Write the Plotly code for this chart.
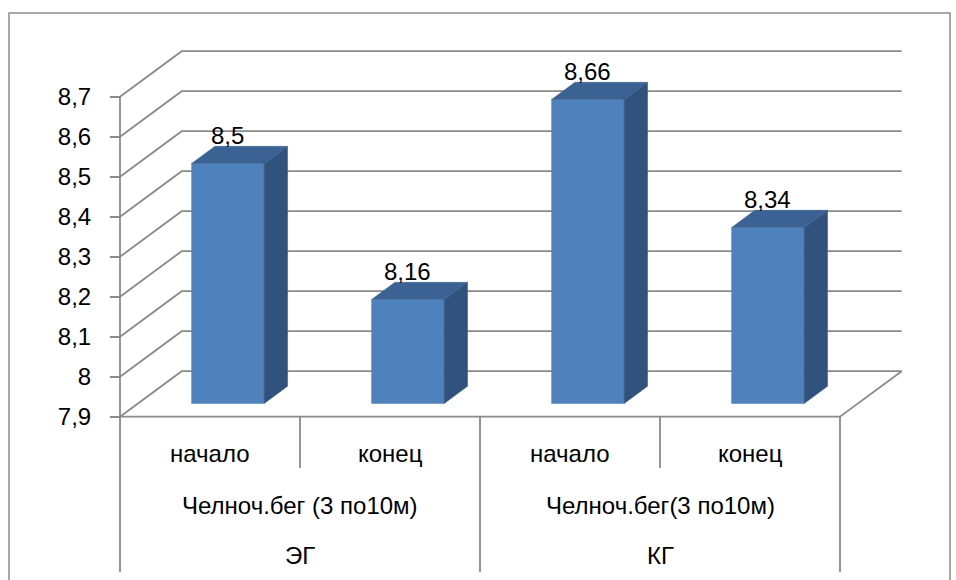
import plotly.graph_objects as go

# ---- data -------------------------------------------------------------
groups = ["ЭГ", "КГ"]
tests = ["Челноч.бег (3 по10м)", "Челноч.бег(3 по10м)"]
stages = ["начало", "конец", "начало", "конец"]
values = [8.5, 8.16, 8.66, 8.34]

tick_vals = [7.9, 8.0, 8.1, 8.2, 8.3, 8.4, 8.5, 8.6, 8.7]
tick_text = ["7,9", "8", "8,1", "8,2", "8,3", "8,4", "8,5", "8,6", "8,7"]

# ---- geometry of the oblique 3-D projection ----------------------------
W, H = 956, 580
AX_X_PX = 120.0          # front value axis position (px)
FLOOR_Y_PX = 416.7       # front edge of the floor (px)
PX_PER_CAT = 180.0
PX_PER_UNIT = 400.0
BASE = tick_vals[0]
TOP = tick_vals[-1]
N = len(values)

DX = 61.7 / PX_PER_CAT       # depth offset along x (category units)
DY = 45.5 / PX_PER_UNIT      # depth offset along y (value units)
F0, F1 = 0.29, 0.668         # front / back depth fraction of the bars
HALF_W = 36.3 / PX_PER_CAT   # half bar width (category units)

x_range = [(0 - AX_X_PX) / PX_PER_CAT, (W - AX_X_PX) / PX_PER_CAT]
y_range = [BASE - (H - FLOOR_Y_PX) / PX_PER_UNIT, BASE + FLOOR_Y_PX / PX_PER_UNIT]


def below(px):
    """value-axis coordinate lying `px` pixels under the floor front edge"""
    return BASE - px / PX_PER_UNIT


TABLE_BOTTOM = below(572 - FLOOR_Y_PX)
ROW1_BOTTOM = below(468 - FLOOR_Y_PX)
ROW_Y = [below(453 - FLOOR_Y_PX), below(505 - FLOOR_Y_PX), below(555 - FLOOR_Y_PX)]

GRID = "#8A8A8A"
FRONT = "#4F81BD"
SIDE = "#31527C"
TOPC = "#3B6292"
FONT = "Liberation Sans"

fig = go.Figure()

# back wall gridlines with their diagonals on the side wall
gx, gy = [], []
for v in tick_vals:
    gx += [0, DX, N + DX, None]
    gy += [v, v + DY, v + DY, None]
fig.add_trace(go.Scatter(x=gx, y=gy, mode="lines",
                         line=dict(color=GRID, width=1.8), hoverinfo="skip"))

# floor front edge + right edge, value axis line, category separators
lx = [0, N, N + DX, None, 0, 0, None]
ly = [BASE, BASE, BASE + DY, None, TOP, TABLE_BOTTOM, None]
for i in range(1, N + 1):
    lx += [i, i, None]
    ly += [BASE, ROW1_BOTTOM if i % 2 else TABLE_BOTTOM, None]
fig.add_trace(go.Scatter(x=lx, y=ly, mode="lines",
                         line=dict(color=GRID, width=1.8), hoverinfo="skip"))

# 3-D bars: front face, right side face, top face
annotations = []
for i, v in enumerate(values):
    c = i + 0.5
    xl0, xr0 = c - HALF_W + F0 * DX, c + HALF_W + F0 * DX
    xl1, xr1 = c - HALF_W + F1 * DX, c + HALF_W + F1 * DX
    yb0, yt0 = BASE + F0 * DY, v + F0 * DY
    yb1, yt1 = BASE + F1 * DY, v + F1 * DY
    faces = [
        ([xl0, xr0, xr0, xl0, xl0], [yb0, yb0, yt0, yt0, yb0], FRONT),
        ([xr0, xr1, xr1, xr0, xr0], [yb0, yb1, yt1, yt0, yb0], SIDE),
        ([xl0, xr0, xr1, xl1, xl0], [yt0, yt0, yt1, yt1, yt0], TOPC),
    ]
    for fx, fy, col in faces:
        fig.add_trace(go.Scatter(x=fx, y=fy, mode="lines", fill="toself",
                                 fillcolor=col, line=dict(color=col, width=0.5),
                                 hoverinfo="skip"))
    annotations.append(dict(
        x=c + F0 * DX, y=yt1, xref="x", yref="y",
        text=f"{v:g}".replace(".", ","), showarrow=False,
        yanchor="bottom", yshift=-5,
        font=dict(family=FONT, size=24, color="#000000")))

# multi-level category labels
for i, s in enumerate(stages):
    annotations.append(dict(x=i + 0.5, y=ROW_Y[0], text=s, showarrow=False,
                            font=dict(family=FONT, size=24, color="#000000")))
per_group = N // len(groups)
for g, (t, name) in enumerate(zip(tests, groups)):
    cx = g * per_group + per_group / 2
    annotations.append(dict(x=cx, y=ROW_Y[1], text=t, showarrow=False,
                            font=dict(family=FONT, size=24, color="#000000")))
    annotations.append(dict(x=cx, y=ROW_Y[2], text=name, showarrow=False,
                            font=dict(family=FONT, size=24, color="#000000")))

fig.update_layout(
    width=W, height=H,
    margin=dict(l=0, r=0, t=0, b=0),
    paper_bgcolor="white", plot_bgcolor="white",
    showlegend=False,
    annotations=annotations,
    xaxis=dict(range=x_range, visible=False, fixedrange=True),
    yaxis=dict(range=y_range, anchor="free", position=AX_X_PX / W,
               tickvals=tick_vals, ticktext=tick_text,
               showgrid=False, zeroline=False, showline=False,
               ticks="outside", ticklen=10, tickwidth=1.8, tickcolor=GRID,
               ticklabelstandoff=14,
               tickfont=dict(family=FONT, size=24, color="#000000"),
               fixedrange=True),
    shapes=[dict(type="rect", xref="paper", yref="paper",
                 x0=9 / W, x1=950 / W, y0=-0.05, y1=1 - 13 / H,
                 line=dict(color="#8C8C8C", width=1.5), fillcolor="rgba(0,0,0,0)",
                 layer="below")],
)

fig.write_html("out.html")
